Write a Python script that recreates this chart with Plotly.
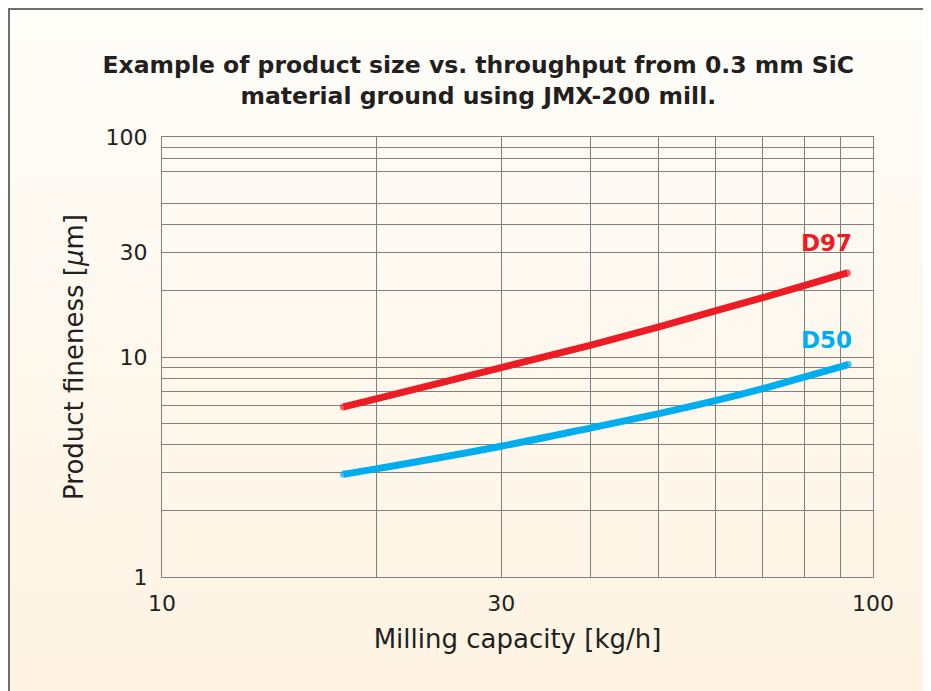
import plotly.graph_objects as go
import numpy as np

# ---- data ----
capacity_d97 = [18, 20, 30, 40, 50, 60, 70, 80, 92]
fineness_d97 = [5.93, 6.45, 8.95, 11.3, 13.7, 16.2, 18.6, 21.1, 24.1]

capacity_d50 = [18, 20, 30, 40, 50, 60, 70, 80, 92.3]
fineness_d50 = [2.93, 3.10, 3.93, 4.75, 5.53, 6.33, 7.18, 8.1, 9.24]

x_tickvals = [10, 20, 30, 40, 50, 60, 70, 80, 90, 100]
x_ticktext = ["10", "", "30", "", "", "", "", "", "", "100"]
y_tickvals = [1, 2, 3, 4, 5, 6, 7, 8, 9, 10, 20, 30, 40, 50, 70, 80, 90, 100]
y_ticktext = ["1", "", "", "", "", "", "", "", "", "10", "", "30", "", "", "", "", "", "100"]

title_text = "Example of product size vs. throughput from 0.3 mm SiC<br>material ground using JMX-200 mill."
RED = "#ED1C24"
BLUE = "#00AEEF"
GRID = "#808080"
TXT = "#231F20"
FONT = "DejaVu Sans, Verdana, sans-serif"

W, H = 923, 683
ML, MT = 154, 129
PW, PH = 711, 440
MR = W - ML - PW
MB = H - MT - PH

fig = go.Figure()

def endcaps(n, size):
    s = [0] * n
    s[0] = size
    s[-1] = size
    return s

fig.add_trace(go.Scatter(
    x=capacity_d97, y=fineness_d97, mode="lines+markers", name="D97",
    line=dict(color=RED, width=7, shape="spline", smoothing=1.0),
    marker=dict(color=RED, size=endcaps(len(capacity_d97), 7), line=dict(width=0)),
    hoverinfo="x+y+name"))
fig.add_trace(go.Scatter(
    x=capacity_d50, y=fineness_d50, mode="lines+markers", name="D50",
    line=dict(color=BLUE, width=7, shape="spline", smoothing=1.0),
    marker=dict(color=BLUE, size=endcaps(len(capacity_d50), 7), line=dict(width=0)),
    hoverinfo="x+y+name"))

# background gradient bands (paper coordinates spanning whole figure)
shapes = []
nb = 40
y_bot = -MB / PH
y_top = 1 + MT / PH
x_left = -ML / PW
x_right = 1 + MR / PW
c_top = np.array([254, 253, 249])
c_bot = np.array([254, 243, 226])
for i in range(nb):
    t = (i + 0.5) / nb
    c = c_top * (1 - t) + c_bot * t
    y1 = y_top - (y_top - y_bot) * i / nb
    y0 = y_top - (y_top - y_bot) * (i + 1) / nb
    shapes.append(dict(type="rect", xref="paper", yref="paper",
                       x0=x_left, x1=x_right, y0=y0 - 0.002, y1=y1 + 0.002,
                       fillcolor="rgb(%d,%d,%d)" % tuple(c.round().astype(int)),
                       line=dict(width=0), layer="below"))
# frame border lines (top and left)
shapes.append(dict(type="line", xref="paper", yref="paper",
                   x0=x_left, x1=x_right, y0=1 + (MT - 1) / PH, y1=1 + (MT - 1) / PH,
                   line=dict(color="#6E6E6E", width=2), layer="above"))
shapes.append(dict(type="line", xref="paper", yref="paper",
                   x0=(1 - ML) / PW, x1=(1 - ML) / PW, y0=y_bot, y1=y_top,
                   line=dict(color="#6E6E6E", width=2), layer="above"))

axis_common = dict(
    showgrid=True, gridcolor=GRID, gridwidth=1.3,
    showline=True, linecolor=GRID, linewidth=1.3, mirror=True,
    ticks="", zeroline=False,
    tickfont=dict(family=FONT, size=22, color=TXT),
)

fig.update_layout(
    width=W, height=H,
    margin=dict(l=ML, r=MR, t=MT, b=MB),
    paper_bgcolor="#FEF8EE",
    plot_bgcolor="rgba(0,0,0,0)",
    showlegend=False,
    shapes=shapes,
    title=dict(text="<b>" + title_text + "</b>", x=470.3 / W, xanchor="center",
               y=1 - 65 / H, yanchor="middle", yref="container",
               font=dict(family=FONT, size=23.5, color=TXT)),
    xaxis=dict(type="log", range=[1, 2], tickmode="array",
               tickvals=x_tickvals, ticktext=x_ticktext, ticklabelstandoff=6,
               title=dict(text="Milling capacity [kg/h]", standoff=15,
                          font=dict(family=FONT, size=26, color=TXT)),
               **axis_common),
    yaxis=dict(type="log", range=[0, 2], tickmode="array",
               tickvals=y_tickvals, ticktext=y_ticktext, ticklabelstandoff=9,
               title=dict(text="Product fineness [<i>μ</i>m]", standoff=14,
                          font=dict(family=FONT, size=26, color=TXT)),
               **axis_common),
    annotations=[
        dict(text="<b>D97</b>", xref="paper", yref="paper", x=(818 - ML) / PW, y=(MT + PH - 235) / PH,
             xanchor="center", yanchor="middle", showarrow=False,
             font=dict(family=FONT, size=23, color=RED)),
        dict(text="<b>D50</b>", xref="paper", yref="paper", x=(818 - ML) / PW, y=(MT + PH - 331.7) / PH,
             xanchor="center", yanchor="middle", showarrow=False,
             font=dict(family=FONT, size=23, color=BLUE)),
    ],
)

fig.write_html("out.html")
